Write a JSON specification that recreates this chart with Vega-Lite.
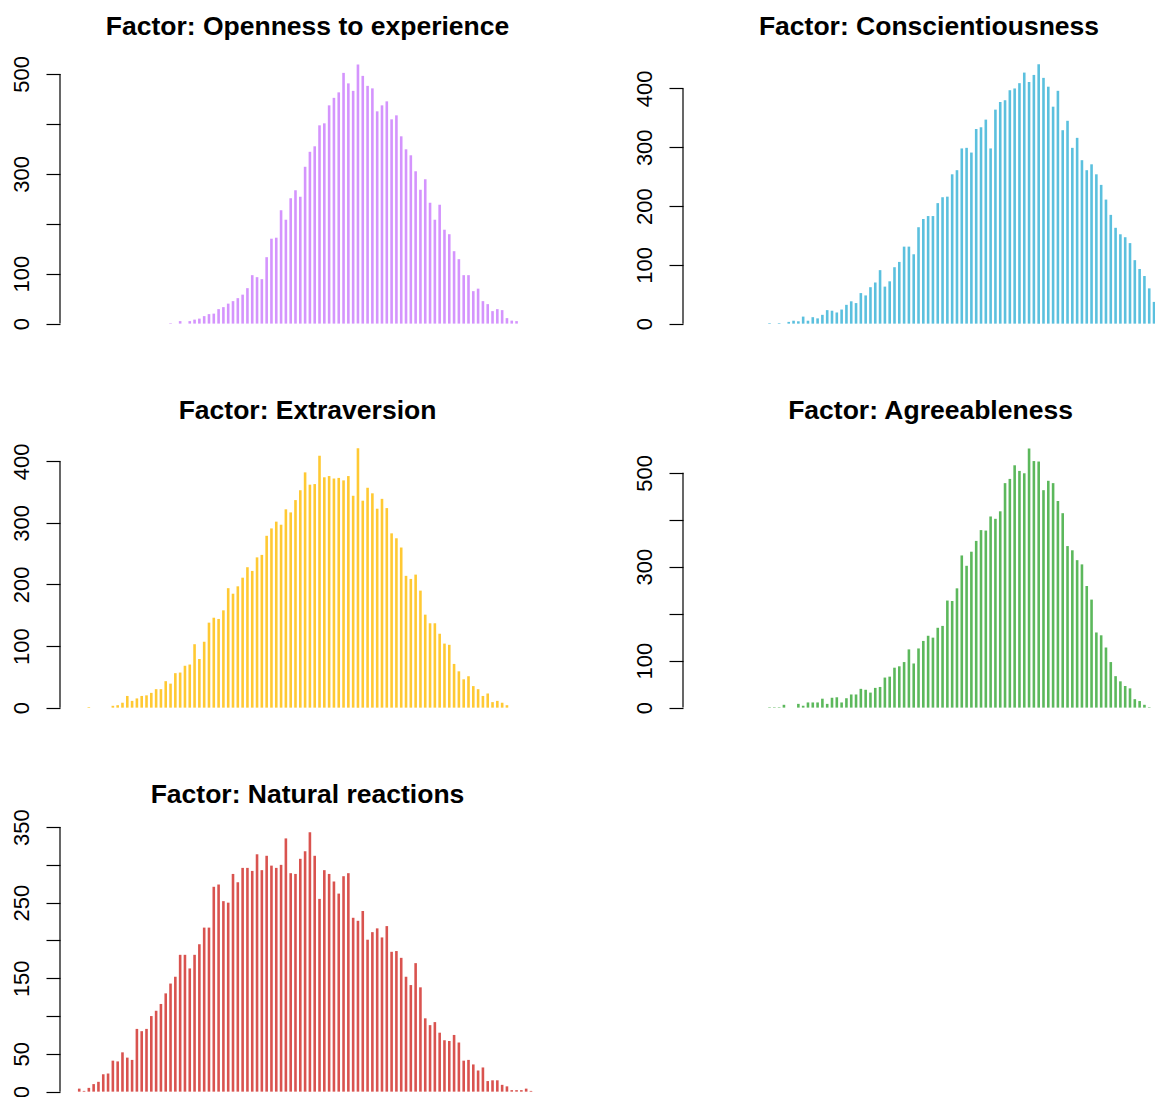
{
  "$schema": "https://vega.github.io/schema/vega-lite/v6.json",
  "background": "white",
  "padding": {"left": 10, "top": 13, "right": 0, "bottom": 0},
  "bounds": "flush",
  "columns": 2,
  "spacing": {"row": 104, "column": 128},
  "config": {
    "view": {"stroke": null},
    "font": "Liberation Sans",
    "title": {"font": "Liberation Sans", "fontSize": 26.5, "fontWeight": "bold", "color": "#000000", "baseline": "alphabetic", "offset": 14, "anchor": "middle"},
    "axis": {"domain": false, "grid": false, "tickCount": 20, "tickSize": 14, "tickWidth": 1.2, "tickColor": "#000000", "labelAngle": 270, "labelAlign": "center", "labelBaseline": "alphabetic", "labelPadding": 17.5, "labelFontSize": 22, "labelColor": "#000000", "labelFont": "Liberation Sans", "labelOverlap": false, "labelFlush": false, "labelBound": false, "title": null}
  },
  "datasets": {
    "openness": [
      {"score":19,"count":1},{"score":21,"count":5},{"score":23,"count":5},{"score":24,"count":8},{"score":25,"count":10},{"score":26,"count":15},{"score":27,"count":19},{"score":28,"count":20},{"score":29,"count":29},{"score":30,"count":33},{"score":31,"count":40},{"score":32,"count":45},{"score":33,"count":51},{"score":34,"count":58},{"score":35,"count":71},{"score":36,"count":97},{"score":37,"count":93},{"score":38,"count":89},{"score":39,"count":133},{"score":40,"count":170},{"score":41,"count":172},{"score":42,"count":227},{"score":43,"count":208},{"score":44,"count":251},{"score":45,"count":267},{"score":46,"count":254},{"score":47,"count":314},{"score":48,"count":344},{"score":49,"count":355},{"score":50,"count":397},{"score":51,"count":401},{"score":52,"count":437},{"score":53,"count":452},{"score":54,"count":463},{"score":55,"count":502},{"score":56,"count":481},{"score":57,"count":466},{"score":58,"count":519},{"score":59,"count":496},{"score":60,"count":476},{"score":61,"count":471},{"score":62,"count":425},{"score":63,"count":437},{"score":64,"count":445},{"score":65,"count":409},{"score":66,"count":417},{"score":67,"count":375},{"score":68,"count":349},{"score":69,"count":337},{"score":70,"count":305},{"score":71,"count":268},{"score":72,"count":289},{"score":73,"count":242},{"score":74,"count":208},{"score":75,"count":238},{"score":76,"count":188},{"score":77,"count":179},{"score":78,"count":145},{"score":79,"count":129},{"score":80,"count":97},{"score":81,"count":97},{"score":82,"count":65},{"score":83,"count":70},{"score":84,"count":45},{"score":85,"count":39},{"score":86,"count":25},{"score":87,"count":29},{"score":88,"count":27},{"score":89,"count":11},{"score":90,"count":6},{"score":91,"count":5}
    ],
    "conscientiousness": [
      {"score":14,"count":1},{"score":16,"count":1},{"score":18,"count":3},{"score":19,"count":5},{"score":20,"count":4},{"score":21,"count":12},{"score":22,"count":5},{"score":23,"count":11},{"score":24,"count":9},{"score":25,"count":15},{"score":26,"count":23},{"score":27,"count":22},{"score":28,"count":19},{"score":29,"count":24},{"score":30,"count":32},{"score":31,"count":38},{"score":32,"count":35},{"score":33,"count":52},{"score":34,"count":48},{"score":35,"count":62},{"score":36,"count":70},{"score":37,"count":91},{"score":38,"count":63},{"score":39,"count":72},{"score":40,"count":96},{"score":41,"count":105},{"score":42,"count":131},{"score":43,"count":131},{"score":44,"count":118},{"score":45,"count":164},{"score":46,"count":178},{"score":47,"count":183},{"score":48,"count":183},{"score":49,"count":205},{"score":50,"count":215},{"score":51,"count":216},{"score":52,"count":254},{"score":53,"count":261},{"score":54,"count":298},{"score":55,"count":299},{"score":56,"count":291},{"score":57,"count":331},{"score":58,"count":334},{"score":59,"count":347},{"score":60,"count":298},{"score":61,"count":364},{"score":62,"count":377},{"score":63,"count":380},{"score":64,"count":397},{"score":65,"count":400},{"score":66,"count":409},{"score":67,"count":427},{"score":68,"count":411},{"score":69,"count":423},{"score":70,"count":441},{"score":71,"count":418},{"score":72,"count":403},{"score":73,"count":369},{"score":74,"count":396},{"score":75,"count":329},{"score":76,"count":345},{"score":77,"count":299},{"score":78,"count":316},{"score":79,"count":278},{"score":80,"count":261},{"score":81,"count":271},{"score":82,"count":254},{"score":83,"count":236},{"score":84,"count":211},{"score":85,"count":185},{"score":86,"count":163},{"score":87,"count":152},{"score":88,"count":147},{"score":89,"count":137},{"score":90,"count":108},{"score":91,"count":93},{"score":92,"count":81},{"score":93,"count":60},{"score":94,"count":37}
    ],
    "extraversion": [
      {"score":2,"count":1},{"score":7,"count":3},{"score":8,"count":4},{"score":9,"count":8},{"score":10,"count":19},{"score":11,"count":11},{"score":12,"count":15},{"score":13,"count":19},{"score":14,"count":20},{"score":15,"count":24},{"score":16,"count":30},{"score":17,"count":30},{"score":18,"count":43},{"score":19,"count":39},{"score":20,"count":56},{"score":21,"count":57},{"score":22,"count":68},{"score":23,"count":70},{"score":24,"count":103},{"score":25,"count":79},{"score":26,"count":107},{"score":27,"count":138},{"score":28,"count":146},{"score":29,"count":144},{"score":30,"count":158},{"score":31,"count":194},{"score":32,"count":185},{"score":33,"count":197},{"score":34,"count":211},{"score":35,"count":228},{"score":36,"count":222},{"score":37,"count":244},{"score":38,"count":248},{"score":39,"count":279},{"score":40,"count":291},{"score":41,"count":302},{"score":42,"count":297},{"score":43,"count":322},{"score":44,"count":317},{"score":45,"count":337},{"score":46,"count":353},{"score":47,"count":382},{"score":48,"count":362},{"score":49,"count":363},{"score":50,"count":409},{"score":51,"count":374},{"score":52,"count":376},{"score":53,"count":372},{"score":54,"count":373},{"score":55,"count":369},{"score":56,"count":376},{"score":57,"count":344},{"score":58,"count":421},{"score":59,"count":336},{"score":60,"count":357},{"score":61,"count":348},{"score":62,"count":323},{"score":63,"count":339},{"score":64,"count":324},{"score":65,"count":283},{"score":66,"count":275},{"score":67,"count":260},{"score":68,"count":214},{"score":69,"count":209},{"score":70,"count":216},{"score":71,"count":190},{"score":72,"count":151},{"score":73,"count":137},{"score":74,"count":137},{"score":75,"count":120},{"score":76,"count":104},{"score":77,"count":102},{"score":78,"count":71},{"score":79,"count":59},{"score":80,"count":46},{"score":81,"count":51},{"score":82,"count":35},{"score":83,"count":30},{"score":84,"count":19},{"score":85,"count":23},{"score":86,"count":9},{"score":87,"count":11},{"score":88,"count":8},{"score":89,"count":4}
    ],
    "agreeableness": [
      {"score":14,"count":1},{"score":15,"count":1},{"score":16,"count":1},{"score":17,"count":6},{"score":20,"count":8},{"score":21,"count":4},{"score":22,"count":11},{"score":23,"count":11},{"score":24,"count":11},{"score":25,"count":19},{"score":26,"count":8},{"score":27,"count":21},{"score":28,"count":22},{"score":29,"count":11},{"score":30,"count":20},{"score":31,"count":28},{"score":32,"count":28},{"score":33,"count":40},{"score":34,"count":38},{"score":35,"count":32},{"score":36,"count":42},{"score":37,"count":44},{"score":38,"count":64},{"score":39,"count":66},{"score":40,"count":85},{"score":41,"count":88},{"score":42,"count":97},{"score":43,"count":124},{"score":44,"count":94},{"score":45,"count":126},{"score":46,"count":142},{"score":47,"count":153},{"score":48,"count":149},{"score":49,"count":170},{"score":50,"count":174},{"score":51,"count":228},{"score":52,"count":227},{"score":53,"count":254},{"score":54,"count":324},{"score":55,"count":302},{"score":56,"count":332},{"score":57,"count":355},{"score":58,"count":378},{"score":59,"count":377},{"score":60,"count":407},{"score":61,"count":402},{"score":62,"count":418},{"score":63,"count":478},{"score":64,"count":487},{"score":65,"count":516},{"score":66,"count":504},{"score":67,"count":499},{"score":68,"count":552},{"score":69,"count":525},{"score":70,"count":524},{"score":71,"count":463},{"score":72,"count":483},{"score":73,"count":478},{"score":74,"count":440},{"score":75,"count":414},{"score":76,"count":344},{"score":77,"count":335},{"score":78,"count":314},{"score":79,"count":305},{"score":80,"count":259},{"score":81,"count":230},{"score":82,"count":160},{"score":83,"count":154},{"score":84,"count":128},{"score":85,"count":97},{"score":86,"count":67},{"score":87,"count":56},{"score":88,"count":46},{"score":89,"count":41},{"score":90,"count":18},{"score":91,"count":14},{"score":92,"count":6},{"score":93,"count":1}
    ],
    "natural": [
      {"score":0,"count":4},{"score":1,"count":1},{"score":2,"count":5},{"score":3,"count":10},{"score":4,"count":13},{"score":5,"count":23},{"score":6,"count":24},{"score":7,"count":41},{"score":8,"count":40},{"score":9,"count":52},{"score":10,"count":45},{"score":11,"count":42},{"score":12,"count":83},{"score":13,"count":80},{"score":14,"count":83},{"score":15,"count":100},{"score":16,"count":107},{"score":17,"count":116},{"score":18,"count":130},{"score":19,"count":143},{"score":20,"count":152},{"score":21,"count":181},{"score":22,"count":181},{"score":23,"count":163},{"score":24,"count":181},{"score":25,"count":195},{"score":26,"count":217},{"score":27,"count":217},{"score":28,"count":271},{"score":29,"count":274},{"score":30,"count":252},{"score":31,"count":250},{"score":32,"count":288},{"score":33,"count":277},{"score":34,"count":296},{"score":35,"count":296},{"score":36,"count":292},{"score":37,"count":314},{"score":38,"count":293},{"score":39,"count":312},{"score":40,"count":299},{"score":41,"count":296},{"score":42,"count":300},{"score":43,"count":335},{"score":44,"count":289},{"score":45,"count":288},{"score":46,"count":308},{"score":47,"count":318},{"score":48,"count":343},{"score":49,"count":312},{"score":50,"count":255},{"score":51,"count":293},{"score":52,"count":288},{"score":53,"count":278},{"score":54,"count":262},{"score":55,"count":285},{"score":56,"count":289},{"score":57,"count":230},{"score":58,"count":226},{"score":59,"count":239},{"score":60,"count":201},{"score":61,"count":211},{"score":62,"count":216},{"score":63,"count":204},{"score":64,"count":219},{"score":65,"count":185},{"score":66,"count":186},{"score":67,"count":177},{"score":68,"count":152},{"score":69,"count":141},{"score":70,"count":170},{"score":71,"count":138},{"score":72,"count":97},{"score":73,"count":88},{"score":74,"count":92},{"score":75,"count":78},{"score":76,"count":68},{"score":77,"count":67},{"score":78,"count":75},{"score":79,"count":65},{"score":80,"count":41},{"score":81,"count":42},{"score":82,"count":36},{"score":83,"count":28},{"score":84,"count":32},{"score":85,"count":14},{"score":86,"count":15},{"score":87,"count":15},{"score":88,"count":9},{"score":89,"count":7},{"score":90,"count":2},{"score":91,"count":2},{"score":92,"count":2},{"score":93,"count":4},{"score":94,"count":1}
    ]
  },
  "concat": [
    {
      "width": 495, "height": 280,
      "title": {"text": "Factor: Openness to experience"},
      "layer": [
        {"data": {"name": "openness"}, "mark": {"type": "rule", "strokeWidth": 2.6, "color": "#D494FD", "clip": true},
         "encoding": {
           "x": {"field": "score", "type": "quantitative", "scale": {"domain": [-4, 99], "nice": false, "zero": false}, "axis": null},
           "y": {"field": "count", "type": "quantitative", "scale": {"domain": [-20.8, 539.8], "nice": false, "zero": false},
                 "axis": {"values": [0, 100, 200, 300, 400, 500], "labelExpr": "datum.value == 200 || datum.value == 400 ? '' : datum.label"}},
           "y2": {"datum": 0}}},
        {"data": {"values": [{}]}, "mark": {"type": "rule", "strokeWidth": 1.2, "color": "#000000"},
         "encoding": {"x": {"datum": -4}, "y": {"datum": 0}, "y2": {"datum": 500}}}
      ]
    },
    {
      "width": 472, "height": 280,
      "title": {"text": "Factor: Conscientiousness", "dx": 10},
      "layer": [
        {"data": {"name": "conscientiousness"}, "mark": {"type": "rule", "strokeWidth": 2.6, "color": "#5BC0DE", "clip": true},
         "encoding": {
           "x": {"field": "score", "type": "quantitative", "scale": {"domain": [-4, 94.2], "nice": false, "zero": false}, "axis": null},
           "y": {"field": "count", "type": "quantitative", "scale": {"domain": [-17.6, 458.6], "nice": false, "zero": false},
                 "axis": {"values": [0, 100, 200, 300, 400]}},
           "y2": {"datum": 0}}},
        {"data": {"values": [{}]}, "mark": {"type": "rule", "strokeWidth": 1.2, "color": "#000000"},
         "encoding": {"x": {"datum": -4}, "y": {"datum": 0}, "y2": {"datum": 400}}}
      ]
    },
    {
      "width": 495, "height": 280,
      "title": {"text": "Factor: Extraversion"},
      "layer": [
        {"data": {"name": "extraversion"}, "mark": {"type": "rule", "strokeWidth": 2.6, "color": "#FFC933", "clip": true},
         "encoding": {
           "x": {"field": "score", "type": "quantitative", "scale": {"domain": [-4, 99], "nice": false, "zero": false}, "axis": null},
           "y": {"field": "count", "type": "quantitative", "scale": {"domain": [-16.8, 437.8], "nice": false, "zero": false},
                 "axis": {"values": [0, 100, 200, 300, 400]}},
           "y2": {"datum": 0}}},
        {"data": {"values": [{}]}, "mark": {"type": "rule", "strokeWidth": 1.2, "color": "#000000"},
         "encoding": {"x": {"datum": -4}, "y": {"datum": 0}, "y2": {"datum": 400}}}
      ]
    },
    {
      "width": 472, "height": 280,
      "title": {"text": "Factor: Agreeableness", "dx": 11.5},
      "layer": [
        {"data": {"name": "agreeableness"}, "mark": {"type": "rule", "strokeWidth": 2.6, "color": "#5CB85C", "clip": true},
         "encoding": {
           "x": {"field": "score", "type": "quantitative", "scale": {"domain": [-4, 94.2], "nice": false, "zero": false}, "axis": null},
           "y": {"field": "count", "type": "quantitative", "scale": {"domain": [-22.1, 574.1], "nice": false, "zero": false},
                 "axis": {"values": [0, 100, 200, 300, 400, 500], "labelExpr": "datum.value == 200 || datum.value == 400 ? '' : datum.label"}},
           "y2": {"datum": 0}}},
        {"data": {"values": [{}]}, "mark": {"type": "rule", "strokeWidth": 1.2, "color": "#000000"},
         "encoding": {"x": {"datum": -4}, "y": {"datum": 0}, "y2": {"datum": 500}}}
      ]
    },
    {
      "width": 495, "height": 276,
      "title": {"text": "Factor: Natural reactions", "offset": 0},
      "layer": [
        {"data": {"name": "natural"}, "mark": {"type": "rule", "strokeWidth": 2.6, "color": "#D9534F", "clip": true},
         "encoding": {
           "x": {"field": "score", "type": "quantitative", "scale": {"domain": [-4, 99], "nice": false, "zero": false}, "axis": null},
           "y": {"field": "count", "type": "quantitative", "scale": {"domain": [-8.4, 356.7], "nice": false, "zero": false},
                 "axis": {"values": [0, 50, 100, 150, 200, 250, 300, 350], "labelExpr": "datum.value == 100 || datum.value == 200 || datum.value == 300 ? '' : datum.label"}},
           "y2": {"datum": 0}}},
        {"data": {"values": [{}]}, "mark": {"type": "rule", "strokeWidth": 1.2, "color": "#000000"},
         "encoding": {"x": {"datum": -4}, "y": {"datum": 0}, "y2": {"datum": 350}}}
      ]
    }
  ]
}
